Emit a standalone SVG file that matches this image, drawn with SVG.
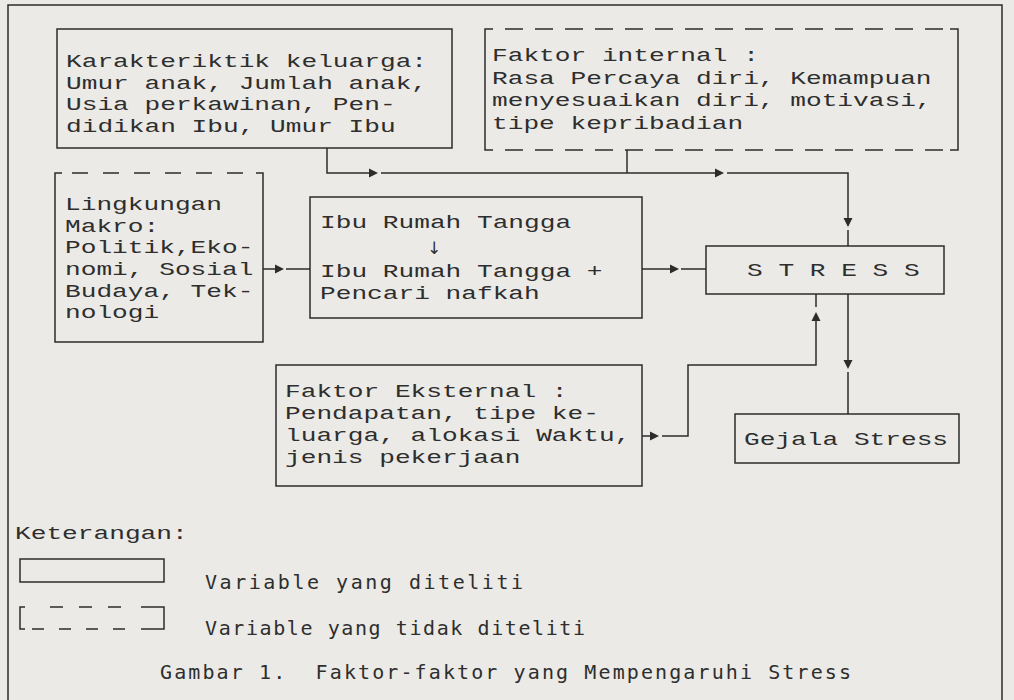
<svg xmlns="http://www.w3.org/2000/svg" xmlns:xlink="http://www.w3.org/1999/xlink" width="1014" height="700" viewBox="0 0 1014 700">
<style>
.ink{fill:none;stroke:#2c2c2c;stroke-width:1.5}
.dash{fill:none;stroke:#2c2c2c;stroke-width:1.5;stroke-dasharray:18 12}
.dash2{fill:none;stroke:#2c2c2c;stroke-width:1.5;stroke-dasharray:16 15}
.mono{font-family:"Liberation Mono","Courier New",monospace;font-size:19px;fill:#2e2e2e}
.sans{font-family:"DejaVu Sans Mono","Liberation Sans",sans-serif;font-size:20px;fill:#2e2e2e}
.ah{fill:#2c2c2c}
</style>
<defs>
<path id="ah" d="M0,0 L-9,-4.5 L-9,4.5 Z"/>
</defs>
<rect x="0" y="0" width="1014" height="700" fill="#ebeae6"/>
<g id="frame"><path class="ink" d="M8,700 V5 H1002 V700"/></g>

<g id="karakteristik">
<rect class="ink" x="57" y="29" width="395" height="119"/>
<text class="mono" transform="translate(66 67) scale(1.377 1)"><tspan x="0" y="0">Karakteriktik keluarga:</tspan><tspan x="0" y="21.7">Umur anak, Jumlah anak,</tspan><tspan x="0" y="43.4">Usia perkawinan, Pen-</tspan><tspan x="0" y="65">didikan Ibu, Umur Ibu</tspan></text>
</g>

<g id="faktor-internal">
<path class="ink" d="M493,29 H485 V150 H493 M950,29 H958 V150 H950"/>
<path class="dash" d="M505,29 H946 M505,150 H946"/>
<text class="mono" transform="translate(492 61) scale(1.377 1)"><tspan x="0" y="0">Faktor internal :</tspan><tspan x="0" y="22.6">Rasa Percaya diri, Kemampuan</tspan><tspan x="0" y="45.2">menyesuaikan diri, motivasi,</tspan><tspan x="0" y="67.8">tipe kepribadian</tspan></text>
</g>

<g id="lingkungan">
<path class="ink" d="M62,173 H55 V342 H263 V173 H256"/>
<path class="dash2" d="M72,173 H250"/>
<text class="mono" transform="translate(65 210) scale(1.377 1)"><tspan x="0" y="0">Lingkungan</tspan><tspan x="0" y="21.7">Makro:</tspan><tspan x="0" y="43.4">Politik,Eko-</tspan><tspan x="0" y="65.1">nomi, Sosial</tspan><tspan x="0" y="86.8">Budaya, Tek-</tspan><tspan x="0" y="108.5">nologi</tspan></text>
</g>

<g id="ibu-rumah-tangga">
<rect class="ink" x="310" y="197" width="332" height="121"/>
<text class="mono" transform="translate(320 228) scale(1.377 1)"><tspan x="0" y="0">Ibu Rumah Tangga</tspan><tspan x="0" y="49">Ibu Rumah Tangga +</tspan><tspan x="0" y="71">Pencari nafkah</tspan></text>
<text x="434" y="254" text-anchor="middle" style="font-family:'DejaVu Sans',sans-serif;font-size:17px;fill:#2e2e2e">↓</text>
</g>

<g id="stress">
<rect class="ink" x="706" y="246" width="238" height="48"/>
<text class="mono" transform="translate(747 276) scale(1.377 1)">S T R E S S</text>
</g>

<g id="faktor-eksternal">
<rect class="ink" x="276" y="365" width="366" height="121"/>
<text class="mono" transform="translate(285 397) scale(1.377 1)"><tspan x="0" y="0">Faktor Eksternal :</tspan><tspan x="0" y="22">Pendapatan, tipe ke-</tspan><tspan x="0" y="44">luarga, alokasi Waktu,</tspan><tspan x="0" y="66">jenis pekerjaan</tspan></text>
</g>

<g id="gejala-stress">
<rect class="ink" x="735" y="414" width="224" height="49"/>
<text class="mono" transform="translate(744 445) scale(1.377 1)">Gejala Stress</text>
</g>

<g id="connectors">
<path class="ink" d="M327,148 V173 H370 M381,173 H716 M727,173 H848 V218 M848,230 V246"/>
<path class="ink" d="M627,150 V173"/>
<path class="ink" d="M263,269 H275 M286,269 H310"/>
<path class="ink" d="M642,269 H670 M681,269 H706"/>
<path class="ink" d="M642,436 H651 M662,436 H688 V365 H816 V321 M816,307 V294"/>
<path class="ink" d="M848,294 V360 M848,372 V414"/>
<use xlink:href="#ah" class="ah" transform="translate(378 173)"/>
<use xlink:href="#ah" class="ah" transform="translate(724 173)"/>
<use xlink:href="#ah" class="ah" transform="translate(848 227) rotate(90)"/>
<use xlink:href="#ah" class="ah" transform="translate(284 269)"/>
<use xlink:href="#ah" class="ah" transform="translate(679 269)"/>
<use xlink:href="#ah" class="ah" transform="translate(659 436)"/>
<use xlink:href="#ah" class="ah" transform="translate(816 312) rotate(-90)"/>
<use xlink:href="#ah" class="ah" transform="translate(848 369) rotate(90)"/>
</g>

<g id="legend">
<text class="mono" transform="translate(15 539) scale(1.377 1)">Keterangan:</text>
<rect class="ink" x="20" y="559" width="144" height="23"/>
<path class="ink" d="M25,607 H20 V629 H25 M141,607 H164 V629 H141"/>
<path class="ink" d="M50,607 H63 M79,607 H92 M108,607 H121 M32,629 H44 M59,629 H71 M86,629 H98 M113,629 H125"/>
<text class="sans" x="205" y="589" textLength="318">Variable yang diteliti</text>
<text class="sans" x="205" y="635" textLength="380">Variable yang tidak diteliti</text>
</g>

<g id="caption">
<text class="sans" x="160" y="679" textLength="691" xml:space="preserve">Gambar 1.  Faktor-faktor yang Mempengaruhi Stress</text>
</g>
</svg>
